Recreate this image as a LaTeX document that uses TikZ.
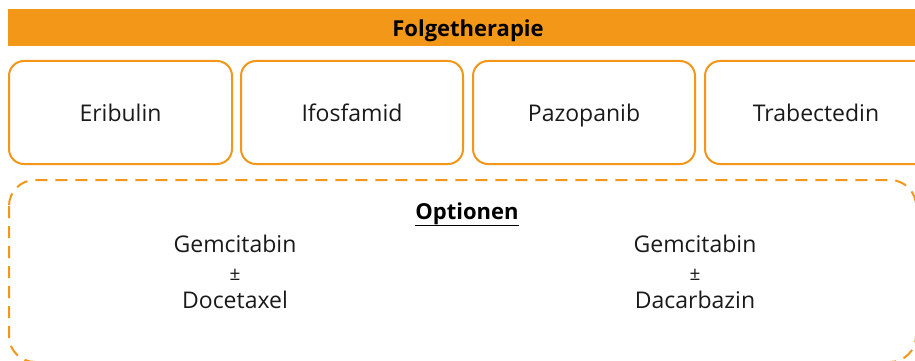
\documentclass[tikz,border=0pt]{standalone}
\usepackage{fontspec}
\setmainfont{Open Sans}
\definecolor{org}{HTML}{F39719}
\definecolor{txt}{HTML}{1A1A1A}
\begin{document}
\begin{tikzpicture}[x=1pt,y=-1pt,
  box/.style={draw=org,line width=2pt,rounded corners=15pt,fill=white},
  lbl/.style={font=\fontsize{23}{27}\selectfont,text=txt,inner sep=0pt,anchor=base},
  pm/.style={font=\fontsize{19}{22}\selectfont,text=txt,inner sep=0pt,anchor=base},
  hdr/.style={font=\bfseries\fontsize{22}{26}\selectfont,text=black,inner sep=0pt,anchor=base}]
\useasboundingbox (0,0) rectangle (915,361);
\fill[white] (0,0) rectangle (915,361);
\fill[org] (8,9) rectangle (915,46);
\node[hdr] (title) at (468,36.5) {Folgetherapie};
\draw[box] (9,61) rectangle (232,164);
\node[lbl] (a) at (120.5,121) {Eribulin};
\draw[box] (241,61) rectangle (463,164);
\node[lbl] (b) at (352,121) {Ifosfamid};
\draw[box] (473,61) rectangle (695,164);
\node[lbl] (c) at (584,121) {Pazopanib};
\draw[box] (705,61) rectangle (930,164);
\node[lbl] (d) at (816,121) {Trabectedin};
\draw[draw=org,line width=2pt,dash pattern=on 12pt off 8pt,rounded corners=26pt] (9,180) rectangle (916,362);
\node[hdr] (opt) at (467,219) {\underline{Optionen}};
\node[lbl] (l1) at (235,252) {Gemcitabin};
\node[pm] (l2) at (235,280) {±};
\node[lbl] (l3) at (235,308) {Docetaxel};
\node[lbl] (r1) at (695,252) {Gemcitabin};
\node[pm] (r2) at (695,280) {±};
\node[lbl] (r3) at (695,308) {Dacarbazin};
\end{tikzpicture}
\end{document}
